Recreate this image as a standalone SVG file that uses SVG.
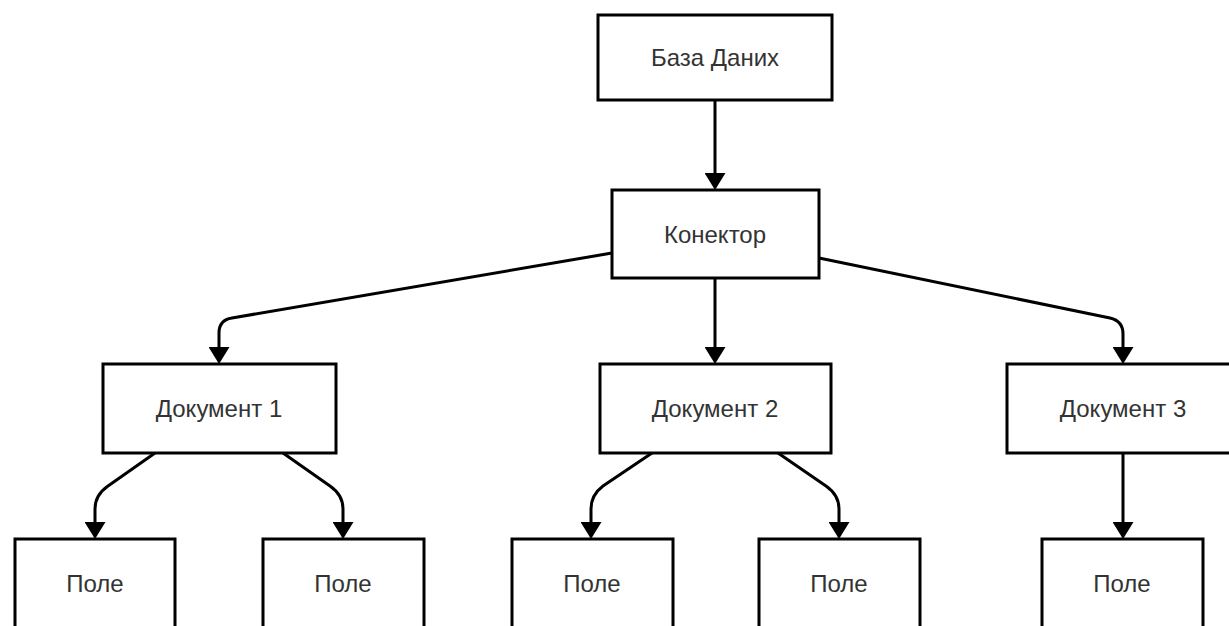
<svg xmlns="http://www.w3.org/2000/svg" width="1229" height="626" viewBox="0 0 1229 626">
<style>
.box{fill:#ffffff;stroke:#000000;stroke-width:3}
.lbl{font-family:"Liberation Sans",Arial,sans-serif;font-size:24px;fill:#333333;text-anchor:middle}
.edge{fill:none;stroke:#000000;stroke-width:3;marker-end:url(#arr)}
</style>
<defs>
<marker id="arr" viewBox="0 0 17 21" refX="0" refY="10.5" markerWidth="17" markerHeight="21" markerUnits="userSpaceOnUse" orient="auto">
<path d="M0,0 L17,10.5 L0,21 Z" fill="#000000"/>
</marker>
</defs>
<rect width="1229" height="626" fill="#ffffff"/>
<g id="connectors">
<path class="edge" d="M715,100 L715,173"/>
<path class="edge" d="M715,278 L715,347"/>
<path class="edge" d="M612,253 L232,318 Q219,320 219,333 L219,347"/>
<path class="edge" d="M819,258 L1110,318 Q1123,321 1123,334 L1123,347"/>
<path class="edge" d="M155,453 L108,486 Q95,495 95,509 L95,522"/>
<path class="edge" d="M283,453 L330,486 Q343,495 343,509 L343,522"/>
<path class="edge" d="M652,453 L603,486 Q591,495 591,509 L591,522"/>
<path class="edge" d="M778,453 L826,486 Q839,495 839,509 L839,522"/>
<path class="edge" d="M1123,453 L1123,522"/>
</g>
<g id="db"><rect class="box" x="598" y="15" width="234" height="85"/><text class="lbl" x="715" y="66">База Даних</text></g>
<g id="connector"><rect class="box" x="612" y="190" width="207" height="88"/><text class="lbl" x="715" y="243">Конектор</text></g>
<g id="doc1"><rect class="box" x="103" y="364" width="233" height="89"/><text class="lbl" x="219" y="417">Документ 1</text></g>
<g id="doc2"><rect class="box" x="600" y="364" width="231" height="89"/><text class="lbl" x="715" y="417">Документ 2</text></g>
<g id="doc3"><rect class="box" x="1007" y="364" width="232" height="89"/><text class="lbl" x="1123" y="417">Документ 3</text></g>
<g id="field1"><rect class="box" x="15" y="539" width="160" height="90"/><text class="lbl" x="95" y="592">Поле</text></g>
<g id="field2"><rect class="box" x="263" y="539" width="161" height="90"/><text class="lbl" x="343" y="592">Поле</text></g>
<g id="field3"><rect class="box" x="512" y="539" width="161" height="90"/><text class="lbl" x="592" y="592">Поле</text></g>
<g id="field4"><rect class="box" x="759" y="539" width="161" height="90"/><text class="lbl" x="839" y="592">Поле</text></g>
<g id="field5"><rect class="box" x="1042" y="539" width="161" height="90"/><text class="lbl" x="1122" y="592">Поле</text></g>
</svg>
